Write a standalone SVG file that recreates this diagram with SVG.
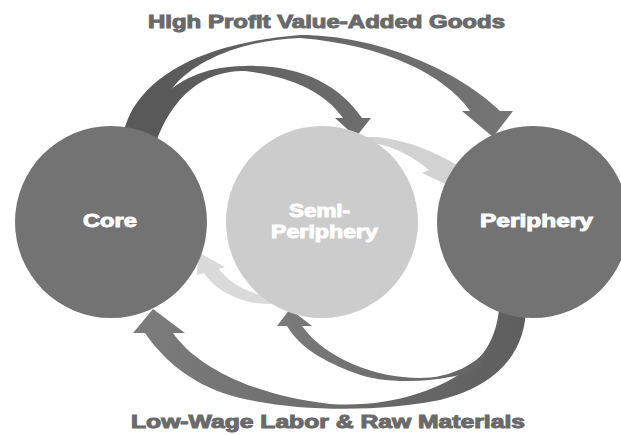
<svg xmlns="http://www.w3.org/2000/svg" width="621" height="435" viewBox="0 0 621 435">
<defs>
<style>
.lbl{font-family:"Liberation Sans",Arial,sans-serif;font-weight:bold;font-size:18px;}
.cap{fill:#6a6a6a;stroke:#6a6a6a;stroke-width:1;}
.node-text{fill:#ffffff;stroke:#ffffff;stroke-width:0.9;}
.dark{fill:#737373;}
.light{fill:#cccccc;}
</style>
<linearGradient id="gTopBig" gradientUnits="userSpaceOnUse" x1="120" y1="0" x2="510" y2="0">
<stop offset="0" stop-color="#575757"/><stop offset="1" stop-color="#757575"/>
</linearGradient>
<linearGradient id="gTopSmall" gradientUnits="userSpaceOnUse" x1="140" y1="0" x2="370" y2="0">
<stop offset="0" stop-color="#575757"/><stop offset="1" stop-color="#6e6e6e"/>
</linearGradient>
<linearGradient id="gBotBig" gradientUnits="userSpaceOnUse" x1="525" y1="0" x2="135" y2="0">
<stop offset="0" stop-color="#5e5e5e"/><stop offset="1" stop-color="#7c7c7c"/>
</linearGradient>
<linearGradient id="gBotSmall" gradientUnits="userSpaceOnUse" x1="495" y1="0" x2="280" y2="0">
<stop offset="0" stop-color="#626262"/><stop offset="1" stop-color="#7a7a7a"/>
</linearGradient>
</defs>
<rect width="621" height="435" fill="#ffffff"/>
<text class="lbl cap" x="148" y="28" textLength="357" lengthAdjust="spacingAndGlyphs">High Profit Value-Added Goods</text>
<text class="lbl cap" x="131" y="428" textLength="394" lengthAdjust="spacingAndGlyphs">Low-Wage Labor &amp; Raw Materials</text>
<g id="connectors">
<path id="semi-to-periphery" fill="#d2d2d2" d="M 330,152 C 345,138 365,135 385,138 C 410,142 435,152 455,164 L 470,160 L 458,190 L 422,173 L 429,170 C 415,158 395,146 372,143 C 358,142 345,148 335,158 Z"/>
<path id="semi-to-core" fill="#dadada" d="M 219,269 C 228,281 243,291 262,295 L 295,292 L 295,302 C 280,304 262,305 250,302 C 230,297 214,288 204,273 L 197,275 L 198,252 L 225,267 Z"/>
<path id="core-to-semi" fill="url(#gTopSmall)" d="M 135,145 C 150,90 195,66 245,66 C 300,64 340,85 362,118 L 371,118 L 356,137 L 335,118 L 343,118 C 325,92 290,76 245,71 C 205,70 172,95 155,145 Z"/>
<path id="core-to-periphery" fill="url(#gTopBig)" d="M 122,145 C 125,95 175,45 300,35 C 380,35 460,72 500,111 L 513,111 L 493,137 L 462,111 L 470,111 C 445,75 385,45 300,38 C 240,40 195,62 175,85 C 160,102 152,120 150,145 Z"/>
<path id="periphery-to-core" fill="url(#gBotBig)" d="M 500,300 L 526,300 C 528,350 500,385 440,400 C 380,412 300,412 240,398 C 195,387 165,362 145,333 L 133,333 L 153,309 L 185,333 L 173,333 C 195,365 250,395 330,404 C 390,408 440,390 470,367 C 490,350 498,330 500,300 Z"/>
<path id="periphery-to-semi" fill="url(#gBotSmall)" d="M 302,326 C 325,358 375,378 420,378 C 450,378 478,365 495,340 L 480,365 C 470,372 458,376 450,377 C 420,383 380,383 355,373 C 325,362 300,348 287,326 L 277,326 L 290,309 L 312,326 Z"/>
</g>
<g id="core">
<circle class="dark" cx="111" cy="222" r="96"/>
<text class="lbl node-text" x="83" y="227" textLength="54" lengthAdjust="spacingAndGlyphs">Core</text>
</g>
<g id="semi-periphery">
<circle class="light" cx="322" cy="222" r="96"/>
<text class="lbl node-text" x="289" y="217" textLength="61" lengthAdjust="spacingAndGlyphs">Semi-</text>
<text class="lbl node-text" x="271" y="238" textLength="107" lengthAdjust="spacingAndGlyphs">Periphery</text>
</g>
<g id="periphery">
<circle class="dark" cx="533" cy="222" r="96"/>
<text class="lbl node-text" x="480" y="227" textLength="113" lengthAdjust="spacingAndGlyphs">Periphery</text>
</g>
</svg>
